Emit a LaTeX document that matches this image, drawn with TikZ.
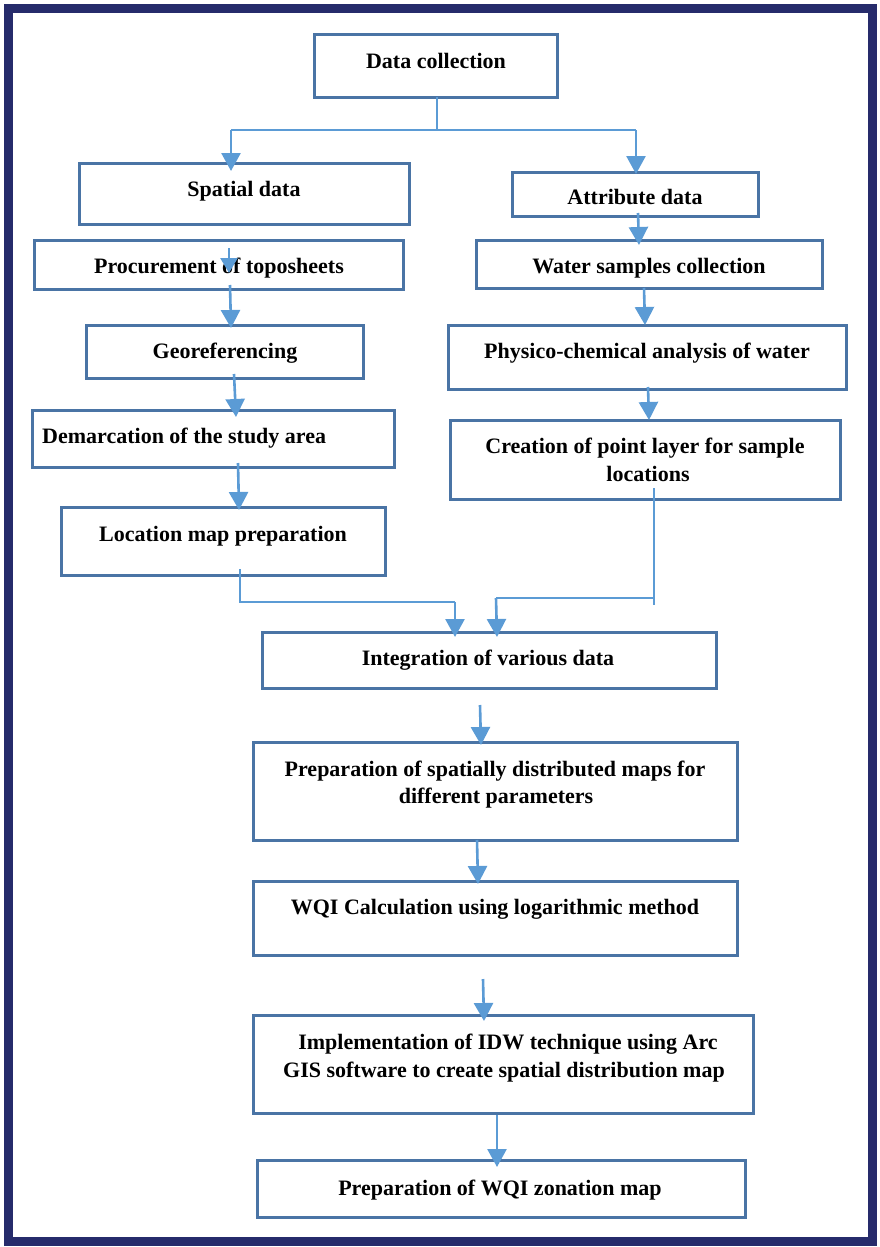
\documentclass[tikz,border=0pt]{standalone}
\usepackage{fontspec}
\setmainfont{Liberation Serif}
\usetikzlibrary{arrows.meta}
\definecolor{framec}{HTML}{262B6B}
\definecolor{boxc}{HTML}{4A74A5}
\definecolor{arrc}{HTML}{5B9BD5}
\begin{document}
\begin{tikzpicture}[x=1pt,y=-1pt,
  box/.style={draw=boxc,line width=3pt,anchor=north west,inner sep=0pt,outer sep=0pt},
  lbl/.style={font=\fontsize{22}{28}\selectfont\bfseries,inner sep=0pt,anchor=base},
  arr/.style={draw=arrc,line width=2.6pt,-{Triangle[length=18pt,width=19pt]}},
  arrs/.style={draw=arrc,line width=2.6pt,-{Triangle[length=15pt,width=17pt]}},
  thinl/.style={draw=arrc,line width=1.3pt}]
\useasboundingbox (0,0) rectangle (880,1247);
\fill[white] (0,0) rectangle (880,1247);
\draw[framec,line width=9pt] (8,9) rectangle (872,1241);

% boxes
\node[box,minimum width=243pt,minimum height=62pt] (dc) at (314,35) {};
\node[box,minimum width=330pt,minimum height=61pt] (sp) at (79,163) {};
\node[box,minimum width=246pt,minimum height=44pt] (at) at (512,172) {};
\node[box,minimum width=369pt,minimum height=49pt] (pr) at (34,240) {};
\node[box,minimum width=346pt,minimum height=48pt] (ws) at (476,240) {};
\node[box,minimum width=277pt,minimum height=53pt] (ge) at (86,325) {};
\node[box,minimum width=398pt,minimum height=64pt] (ph) at (448,325) {};
\node[box,minimum width=362pt,minimum height=57pt] (de) at (32,410) {};
\node[box,minimum width=390pt,minimum height=79pt] (cr) at (450,420) {};
\node[box,minimum width=324pt,minimum height=68pt] (lo) at (61,507) {};
\node[box,minimum width=454pt,minimum height=56pt] (ig) at (262,632) {};
\node[box,minimum width=484pt,minimum height=98pt] (pm) at (253,742) {};
\node[box,minimum width=484pt,minimum height=74pt] (wq) at (253,881) {};
\node[box,minimum width=500pt,minimum height=98pt] (id) at (253,1015) {};
\node[box,minimum width=488pt,minimum height=57pt] (pw) at (257,1160) {};

% labels
\node[lbl] (tdc) at (436,68) {Data collection};
\node[lbl] (tsp) at (244,196) {Spatial data};
\node[lbl] (tat) at (635,204) {Attribute data};
\node[lbl] (tpr) at (219,273) {Procurement of toposheets};
\node[lbl] (tws) at (649,273) {Water samples collection};
\node[lbl] (tge) at (225,358) {Georeferencing};
\node[lbl] (tph) at (647,358) {Physico-chemical analysis of water};
\node[lbl,anchor=base west] (tde) at (42,443) {Demarcation of the study area};
\node[lbl] (tcr1) at (645,453) {Creation of point layer for sample};
\node[lbl] (tcr2) at (648,481) {locations};
\node[lbl] (tlo) at (223,541) {Location map preparation};
\node[lbl] (tig) at (488,665) {Integration of various data};
\node[lbl] (tpm1) at (495,776) {Preparation of spatially distributed maps for};
\node[lbl] (tpm2) at (496,803) {different parameters};
\node[lbl] (twq) at (495,914) {WQI Calculation using logarithmic method};
\node[lbl] (tid1) at (508,1049) {Implementation of IDW technique using Arc};
\node[lbl] (tid2) at (504,1077) {GIS software to create spatial distribution map};
\node[lbl] (tpw) at (500,1195) {Preparation of WQI zonation map};

% connector points
\coordinate (j0) at (437,97);
\coordinate (j1) at (437,130);
\coordinate (jl) at (231,130);
\coordinate (jr) at (636,130);
\draw[thinl] (j0) -- (j1);
\draw[thinl] (jl) -- (jr);
\draw[arr] (jl) -- (231,171);
\draw[arr] (jr) -- (636,174);

\coordinate (s1) at (229,248);
\draw[arrs] (s1) -- (229,273);
\coordinate (s2) at (230,285);
\draw[arr] (s2) -- (231,328);
\coordinate (s3) at (234,374);
\draw[arr] (s3) -- (236,417);
\coordinate (s4) at (238,463);
\draw[arr] (s4) -- (239,510);

\coordinate (r1) at (638,213);
\draw[arr] (r1) -- (639,245);
\coordinate (r2) at (644,288);
\draw[arr] (r2) -- (645,325);
\coordinate (r3) at (648,387);
\draw[arr] (r3) -- (649,420);

% merge into integration
\coordinate (c0) at (654,488);
\coordinate (c1) at (654,598);
\coordinate (c2) at (496,598);
\draw[thinl] (c0) -- (654,605);
\draw[thinl] (c1) -- (c2);
\draw[arr] (c2) -- (497,637);

\coordinate (l0) at (240,569);
\coordinate (l1) at (240,602);
\coordinate (l2) at (455,602);
\draw[thinl] (l0) -- (l1) -- (l2);
\draw[arr] (l2) -- (455,637);

% lower chain
\coordinate (b1) at (480,705);
\draw[arr] (b1) -- (481,745);
\coordinate (b2) at (477,840);
\draw[arr] (b2) -- (478,884);
\coordinate (b3) at (483,979);
\draw[arr] (b3) -- (484,1021);
\coordinate (b4) at (497,1115);
\draw[arr] (b4) -- (497,1167);
\end{tikzpicture}
\end{document}
